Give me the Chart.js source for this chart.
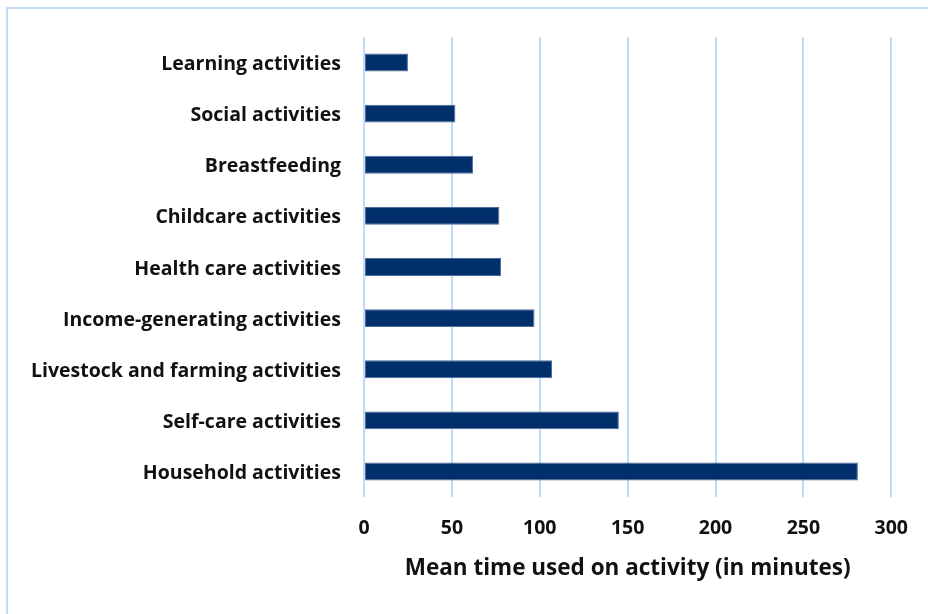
<!DOCTYPE html>
<html>
<head>
<meta charset="utf-8">
<script src="https://cdn.jsdelivr.net/npm/chart.js@4.4.1/dist/chart.umd.min.js"></script>
<style>
  html, body { margin: 0; padding: 0; background: #fff; }
  #wrap { position: relative; width: 928px; height: 614px; overflow: hidden; }
  #frame { position: absolute; left: 6px; top: 7px; width: 940px; height: 640px;
           border: 2px solid #c5dcf8; box-sizing: border-box; }
  canvas { position: absolute; left: 0; top: 0; }
</style>
</head>
<body>
<div id="wrap">
  <div id="frame"></div>
  <canvas id="timeChart" width="928" height="614"></canvas>
</div>
<script>
// activities, top to bottom
let activities = [
    "Learning activities",
    "Social activities",
    "Breastfeeding",
    "Childcare activities",
    "Health care activities",
    "Income-generating activities",
    "Livestock and farming activities",
    "Self-care activities",
    "Household activities"
];
// mean minutes per activity
let minutes = [25, 52, 62, 77, 78, 97, 107, 145, 281];
let xTicks = [0, 50, 100, 150, 200, 250, 300];

const labelFont = { family: "Open Sans", size: 19.5, weight: "bold" };

let ctx = document.getElementById("timeChart").getContext("2d");

const timeChart = new Chart(ctx, {
    type: 'bar',
    data: {
        labels: activities,
        datasets: [{
            label: "Mean time (min)",
            data: minutes,
            backgroundColor: "#002f6b",
            borderColor: "#4d6c9b",
            borderWidth: 1,
            borderSkipped: false,
            barPercentage: 0.35,
            categoryPercentage: 1
        }]
    },
    options: {
        indexAxis: 'y',
        responsive: false,
        animation: false,
        layout: { padding: { top: 37, right: 36, left: 0, bottom: 0 } },
        plugins: {
            legend: { display: false },
            tooltip: { enabled: false }
        },
        scales: {
            x: {
                min: 0,
                max: 300,
                afterBuildTicks: axis => { axis.ticks = xTicks.map(v => ({ value: v })); },
                grid: { color: "#c2daf9", lineWidth: 2, drawTicks: false },
                border: { display: false },
                ticks: { color: "#111", font: labelFont, padding: 20 },
                title: {
                    display: true,
                    text: "Mean time used on activity (in minutes)",
                    color: "#111",
                    font: { family: "Open Sans", size: 22.5, weight: "bold" },
                    padding: { top: 0, bottom: 32 }
                },
                afterFit: axis => { axis.height = 117; }
            },
            y: {
                grid: { display: false, drawTicks: false },
                border: { display: false },
                ticks: { color: "#111", font: labelFont, padding: 23, labelOffset: 2 },
                afterFit: axis => { axis.width = 364; }
            }
        }
    }
});
</script>
</body>
</html>
